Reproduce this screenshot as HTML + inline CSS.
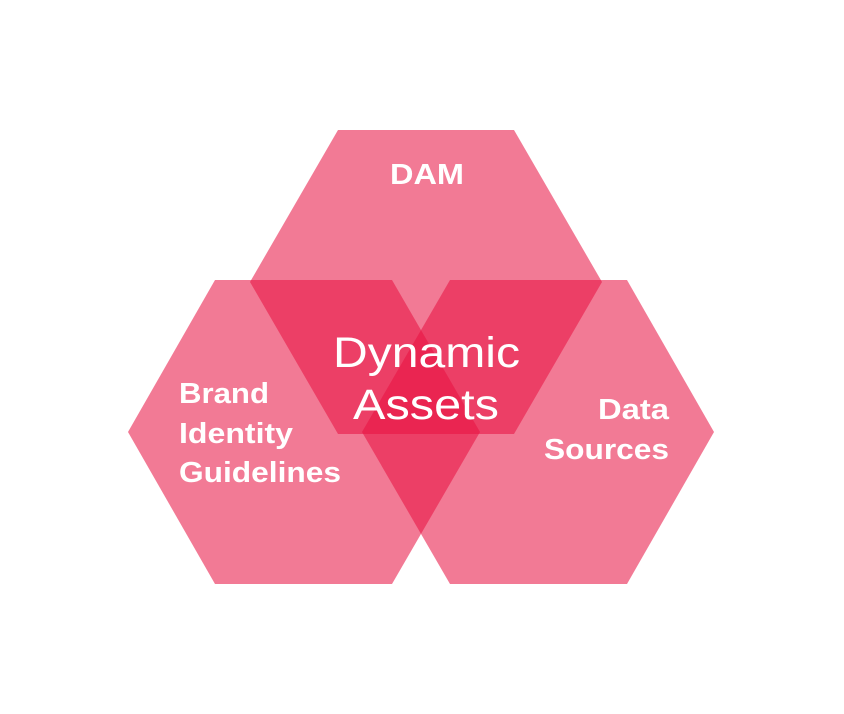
<!DOCTYPE html>
<html><head><meta charset="utf-8"><style>
html,body{margin:0;padding:0;background:#fff;}
svg{display:block}
text{font-family:"Liberation Sans",sans-serif;fill:#fff;}
</style></head><body>
<svg width="844" height="714" viewBox="0 0 844 714">
<g fill="rgb(232,16,64)" fill-opacity="0.556">
<polygon points="338,130 514,130 602,282 514,434 338,434 250,282"/>
<polygon points="215,280 392,280 480,432 392,584 215,584 128,432"/>
<polygon points="450,280 627,280 714,432 627,584 450,584 362,432"/>
</g>
<g font-weight="bold" font-size="29">
<text x="390" y="184" textLength="74" lengthAdjust="spacingAndGlyphs">DAM</text>
<text x="179" y="403" textLength="90" lengthAdjust="spacingAndGlyphs">Brand</text>
<text x="179" y="443" textLength="114" lengthAdjust="spacingAndGlyphs">Identity</text>
<text x="179" y="482" textLength="162" lengthAdjust="spacingAndGlyphs">Guidelines</text>
<text x="598" y="419" textLength="71" lengthAdjust="spacingAndGlyphs">Data</text>
<text x="544" y="459" textLength="125" lengthAdjust="spacingAndGlyphs">Sources</text>
</g>
<text x="333" y="367" font-size="43" textLength="187" lengthAdjust="spacingAndGlyphs">Dynamic</text>
<text x="353" y="419" font-size="43" textLength="146" lengthAdjust="spacingAndGlyphs">Assets</text>
</svg>
</body></html>
